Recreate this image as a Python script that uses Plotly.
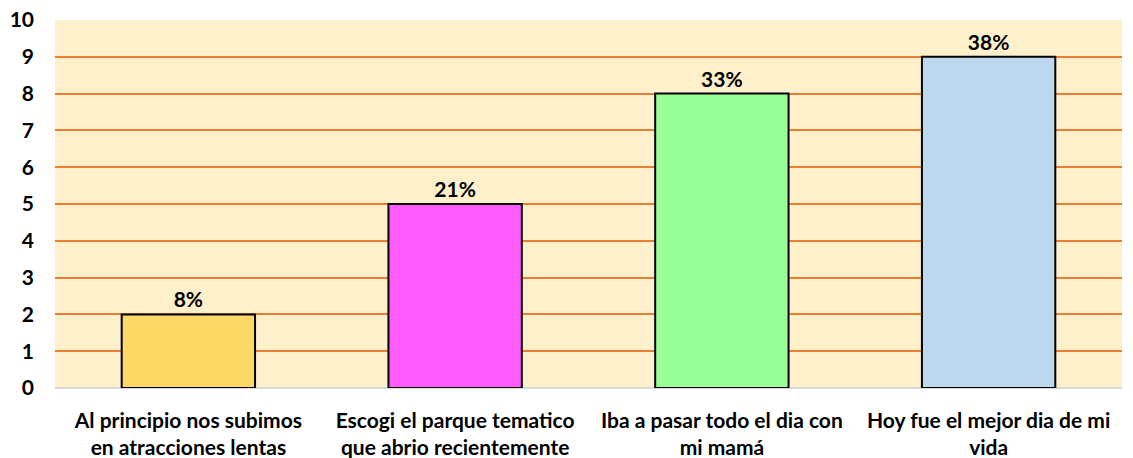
import plotly.graph_objects as go

categories = [
    "Al principio nos subimos<br>en atracciones lentas",
    "Escogi el parque tematico<br>que abrio recientemente",
    "Iba a pasar todo el dia con<br>mi mamá",
    "Hoy fue el mejor dia de mi<br>vida",
]
values = [2, 5, 8, 9]
labels = ["8%", "21%", "33%", "38%"]
colors = ["#FFD966", "#FF5BFF", "#99FF99", "#BDD7EE"]
y_ticks = list(range(0, 11))

FONT = "Lato, Carlito, Calibri, sans-serif"

fig = go.Figure(
    go.Bar(
        x=categories,
        y=values,
        text=labels,
        textposition="outside",
        textfont=dict(family=FONT, size=21, color="black", weight="bold"),
        marker=dict(color=colors, line=dict(color="black", width=2)),
        width=0.5,
        cliponaxis=False,
    )
)

fig.update_layout(
    width=1133,
    height=458,
    margin=dict(l=55, r=11, t=20, b=70),
    paper_bgcolor="white",
    plot_bgcolor="#FFF0CC",
    showlegend=False,
    font=dict(family=FONT, size=21, color="black"),
)
fig.update_xaxes(
    tickfont=dict(family=FONT, size=21, color="black", weight="bold"),
    showgrid=False,
    showline=False,
    ticks="",
    automargin=False,
    ticklabelstandoff=18,
    ticklabeloverflow="allow",
)
fig.update_yaxes(
    range=[0, 10],
    tickvals=y_ticks,
    tickfont=dict(family=FONT, size=21, color="black", weight="bold"),
    showgrid=True,
    gridcolor="#ED7D31",
    gridwidth=2,
    zeroline=True,
    zerolinecolor="#D9D9D9",
    zerolinewidth=2,
    ticks="",
    ticklabelstandoff=20,
    automargin=False,
    ticklabeloverflow="allow",
)

fig.write_html(
    "out.html",
    config={"displayModeBar": False},
    post_script="document.body.style.margin='0';",
)
